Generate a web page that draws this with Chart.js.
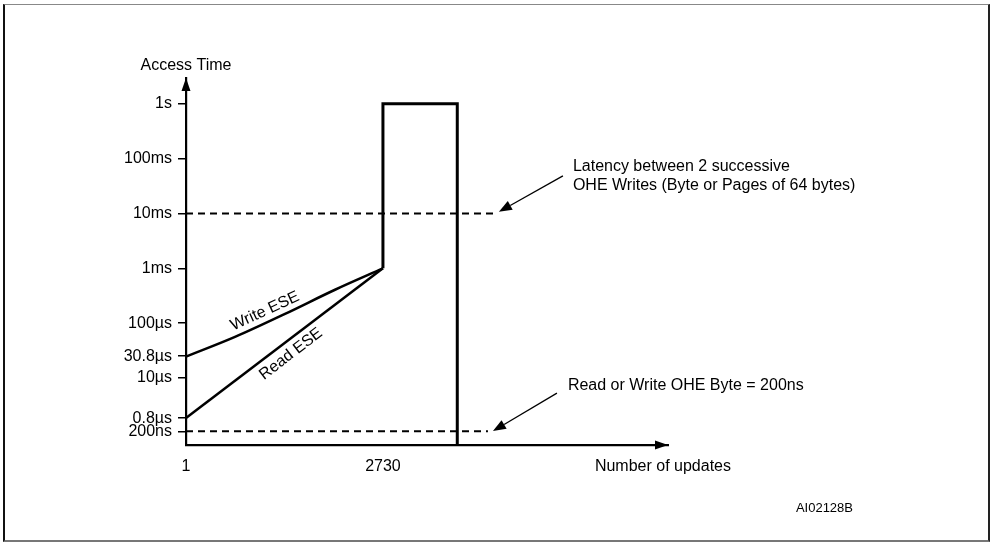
<!DOCTYPE html>
<html><head><meta charset="utf-8">
<script src="https://cdn.jsdelivr.net/npm/chart.js@4/dist/chart.umd.min.js"></script>
<style>
html,body{margin:0;padding:0;background:#fff;}
#wrap{position:relative;width:991px;height:544px;overflow:hidden;}
#frame{position:absolute;left:3px;top:4px;width:983px;height:535px;border-left:2px solid #111;border-top:1px solid #888;border-right:2px solid #222;border-bottom:2px solid #777;pointer-events:none;box-sizing:content-box;}
canvas{position:absolute;left:0;top:0;}
</style></head><body>
<div id="wrap"><canvas id="c" width="991" height="544"></canvas><div id="frame"></div></div>
<script>
// ---- axes / tick labels ----
const xTickValues = [1, 2730];
const xTickLabels = ['1', '2730'];
const yTickLevels = [0.03, 0.27, 1, 1.4, 2, 3, 4, 5, 6];
const yTickLabels = ['200ns', '0.8µs', '10µs', '30.8µs', '100µs', '1ms', '10ms', '100ms', '1s'];
const xMin = 1, xMax = 6680;
const yMin = -0.22, yMax = 6.47;

// ---- series (x = number of updates, y = access-time level on the schematic scale) ----
const writeESE_x = [1, 680, 1373, 2066, 2730];
const writeESE_y = [1.39, 1.75, 2.17, 2.61, 3];
const readESE_x = [1, 2730];
const readESE_y = [0.27, 3];
const oheWrite_x = [2730, 2730, 3760, 3760];
const oheWrite_y = [3, 6, 6, yMin];
const latency_x = [1, 4280];
const latency_y = [4, 4];
const byteTime_x = [1, 4185];
const byteTime_y = [0.03, 0.03];

const pts = (xs, ys) => xs.map((x, i) => ({x: x, y: ys[i]}));

// ---- annotations (anchored in data coordinates) ----
const notes = [
  {text: 'Latency between 2 successive', x: 5362, y: 4.856},
  {text: 'OHE Writes (Byte or Pages of 64 bytes)', x: 5362, y: 4.51},
  {text: 'Read or Write OHE Byte = 200ns', x: 5293, y: 0.872}
];
const arrows = [
  {x1: 5224, y1: 4.686, x2: 4337, y2: 4.03},
  {x1: 5141, y1: 0.726, x2: 4254, y2: 0.033}
];
const curveLabels = [
  {text: 'Write ESE', x: 1095, y: 2.22, angle: -24.5},
  {text: 'Read ESE', x: 1456, y: 1.44, angle: -37.5}
];

const FONT = "'Liberation Sans', Arial, Helvetica, sans-serif";
Chart.defaults.font.family = FONT;
Chart.defaults.color = '#000';

const drawPlugin = {
  id: 'schematic',
  afterDraw(chart) {
    const ctx = chart.ctx, xs = chart.scales.x, ys = chart.scales.y, a = chart.chartArea;
    ctx.save();
    ctx.fillStyle = '#000';
    ctx.strokeStyle = '#000';
    // axis arrowheads
    ctx.beginPath();
    ctx.moveTo(a.left, a.top); ctx.lineTo(a.left - 4.5, a.top + 13); ctx.lineTo(a.left + 4.5, a.top + 13); ctx.closePath(); ctx.fill();
    ctx.beginPath();
    ctx.moveTo(a.right, a.bottom); ctx.lineTo(a.right - 13, a.bottom - 4.5); ctx.lineTo(a.right - 13, a.bottom + 4.5); ctx.closePath(); ctx.fill();
    // annotation arrows
    arrows.forEach(ar => {
      const x1 = xs.getPixelForValue(ar.x1), y1 = ys.getPixelForValue(ar.y1);
      const x2 = xs.getPixelForValue(ar.x2), y2 = ys.getPixelForValue(ar.y2);
      const ang = Math.atan2(y2 - y1, x2 - x1);
      const L = 13, W = 5;
      const bx = x2 - L * Math.cos(ang), by = y2 - L * Math.sin(ang);
      ctx.lineWidth = 1.3;
      ctx.beginPath(); ctx.moveTo(x1, y1); ctx.lineTo(bx, by); ctx.stroke();
      ctx.beginPath();
      ctx.moveTo(x2, y2);
      ctx.lineTo(bx + W * Math.sin(ang), by - W * Math.cos(ang));
      ctx.lineTo(bx - W * Math.sin(ang), by + W * Math.cos(ang));
      ctx.closePath(); ctx.fill();
    });
    // texts
    ctx.font = '16px ' + FONT;
    ctx.textBaseline = 'middle';
    ctx.textAlign = 'left';
    notes.forEach(n => ctx.fillText(n.text, xs.getPixelForValue(n.x), ys.getPixelForValue(n.y)));
    curveLabels.forEach(c => {
      ctx.save();
      ctx.translate(xs.getPixelForValue(c.x), ys.getPixelForValue(c.y));
      ctx.rotate(c.angle * Math.PI / 180);
      ctx.textAlign = 'center';
      ctx.fillText(c.text, 0, 0);
      ctx.restore();
    });
    // axis titles
    ctx.textAlign = 'center';
    ctx.fillText('Access Time', a.left, a.top - 12);
    ctx.textAlign = 'left';
    ctx.fillText('Number of updates', xs.getPixelForValue(5667), a.bottom + 22);
    // figure code
    ctx.font = '13px ' + FONT;
    ctx.textAlign = 'right';
    ctx.fillText('AI02128B', 853, 508);
    ctx.restore();
  }
};

const lineStyle = {borderColor: '#000', pointRadius: 0, showLine: true, fill: false, clip: false, tension: 0};

new Chart(document.getElementById('c'), {
  type: 'scatter',
  data: {
    datasets: [
      Object.assign({label: 'Latency 10ms', data: pts(latency_x, latency_y), borderWidth: 2, borderDash: [7, 5]}, lineStyle),
      Object.assign({label: '200ns', data: pts(byteTime_x, byteTime_y), borderWidth: 2, borderDash: [7, 5]}, lineStyle),
      Object.assign({label: 'Write ESE', data: pts(writeESE_x, writeESE_y), borderWidth: 2.5, cubicInterpolationMode: 'monotone'}, lineStyle, {tension: 0.4}),
      Object.assign({label: 'Read ESE', data: pts(readESE_x, readESE_y), borderWidth: 2.5}, lineStyle),
      Object.assign({label: 'OHE Write', data: pts(oheWrite_x, oheWrite_y), borderWidth: 3, borderJoinStyle: 'miter'}, lineStyle)
    ]
  },
  options: {
    responsive: false,
    animation: false,
    layout: {padding: {left: 0, top: 78, right: 323, bottom: 0}},
    plugins: {legend: {display: false}, tooltip: {enabled: false}, title: {display: false}},
    scales: {
      x: {
        type: 'linear', min: xMin, max: xMax,
        afterFit: s => { s.height = 99; },
        afterBuildTicks: s => { s.ticks = xTickValues.map(v => ({value: v})); },
        ticks: {callback: (v, i) => xTickLabels[i], autoSkip: false, maxRotation: 0, padding: 12, color: '#000', font: {size: 16}},
        grid: {display: true, drawOnChartArea: false, drawTicks: false},
        border: {display: true, color: '#000', width: 2.2}
      },
      y: {
        type: 'linear', min: yMin, max: yMax,
        afterFit: s => { s.width = 186; },
        afterBuildTicks: s => { s.ticks = yTickLevels.map(v => ({value: v})); },
        ticks: {callback: (v, i) => yTickLabels[i], autoSkip: false, padding: 6, color: '#000', font: {size: 16}},
        grid: {drawOnChartArea: false, drawTicks: true, tickLength: 8, color: '#000', lineWidth: 1.5},
        border: {display: true, color: '#000', width: 2.2}
      }
    }
  },
  plugins: [drawPlugin]
});
</script>
</body></html>
